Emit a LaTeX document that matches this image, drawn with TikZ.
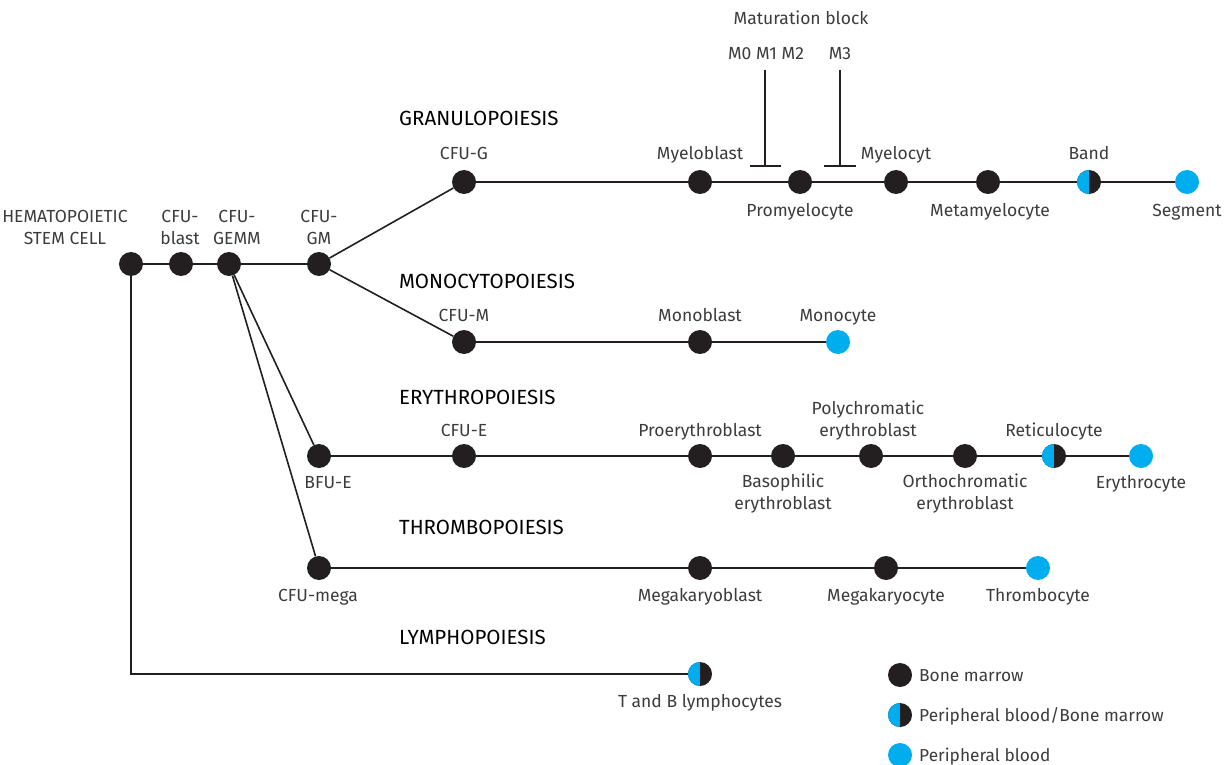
\documentclass[tikz,border=0pt]{standalone}
\usepackage{fontspec}
\setmainfont{Fira Sans}
\definecolor{dotblack}{HTML}{231F20}
\definecolor{dotblue}{HTML}{00AEEF}
\definecolor{lblgrey}{HTML}{3C3C3C}
\begin{document}
\begin{tikzpicture}[x=1pt,y=-1pt,
  dot/.style={circle,minimum size=24pt,inner sep=0pt},
  bm/.style={dot,fill=dotblack},
  pb/.style={dot,fill=dotblue},
  half/.style={dot,fill=dotblack,path picture={\fill[dotblue] (path picture bounding box.south west) rectangle (path picture bounding box.north);}},
  conn/.style={line width=1.6pt,draw=dotblack},
  blk/.style={line width=1.3pt,draw=dotblack},
  lbl/.style={text=lblgrey,font=\fontsize{17.5}{22}\selectfont,inner sep=0pt,anchor=base,align=center},
  ttl/.style={text=black,font=\fontsize{20.5}{22}\selectfont,inner sep=0pt,anchor=base west},
  leg/.style={text=lblgrey,font=\fontsize{17.3}{22}\selectfont,inner sep=0pt,anchor=base west}]
\useasboundingbox (0,0) rectangle (1229,765);
% stem row
\node[bm] (hsc) at (131,264) {};
\node[bm] (blast) at (181,264) {};
\node[bm] (gemm) at (229,264) {};
\node[bm] (gm) at (319,264) {};
% granulo
\node[bm] (cfug) at (464,182) {};
\node[bm] (myelob) at (700,182) {};
\node[bm] (promy) at (800,182) {};
\node[bm] (myeloc) at (896,182) {};
\node[bm] (meta) at (988,182) {};
\node[half] (band) at (1089,182) {};
\node[pb] (seg) at (1187,182) {};
% mono
\node[bm] (cfum) at (464,342) {};
\node[bm] (monob) at (700,342) {};
\node[pb] (monoc) at (838,342) {};
% ery
\node[bm] (bfue) at (319,456) {};
\node[bm] (cfue) at (464,456) {};
\node[bm] (proe) at (700,456) {};
\node[bm] (baso) at (783,456) {};
\node[bm] (poly) at (871,456) {};
\node[bm] (ortho) at (965,456) {};
\node[half] (retic) at (1054,456) {};
\node[pb] (eryc) at (1141,456) {};
% thrombo
\node[bm] (mega) at (319,568) {};
\node[bm] (megab) at (700,568) {};
\node[bm] (megac) at (886,568) {};
\node[pb] (throm) at (1038,568) {};
% lympho
\node[half] (lymph) at (700,674) {};
\coordinate (corner) at (131,674);
% connectors
\draw[conn] (hsc) -- (blast) -- (gemm) -- (gm);
\draw[conn] (gm) -- (cfug);
\draw[conn] (gm) -- (cfum);
\draw[conn] (gemm) -- (bfue);
\draw[conn] (gemm) -- (mega);
\draw[conn] (cfug) -- (myelob) -- (promy) -- (myeloc) -- (meta) -- (band) -- (seg);
\draw[conn] (cfum) -- (monob) -- (monoc);
\draw[conn] (bfue) -- (cfue) -- (proe) -- (baso) -- (poly) -- (ortho) -- (retic) -- (eryc);
\draw[conn] (mega) -- (megab) -- (megac) -- (throm);
\draw[conn] (hsc) -- (corner) -- (lymph);
% maturation block
\coordinate (b1t) at (765,70);
\coordinate (b1b) at (765,166);
\coordinate (b1l) at (750,166);
\coordinate (b1r) at (781,166);
\coordinate (b2t) at (840,70);
\coordinate (b2b) at (840,166);
\coordinate (b2l) at (824,166);
\coordinate (b2r) at (856,166);
\draw[blk] (b1t) -- (b1b) (b1l) -- (b1r);
\draw[blk] (b2t) -- (b2b) (b2l) -- (b2r);
\node[lbl] (matb) at (801,25) {Maturation block};
\node[lbl] (m012) at (766,60) {M0 M1 M2};
\node[lbl] (m3) at (840,60) {M3};
% labels (base anchor = baseline of last line)
\node[lbl] (lhsc) at (65,244) {HEMATOPOIETIC\\STEM CELL};
\node[lbl] (lblast) at (180,244) {CFU-\\blast};
\node[lbl] (lgemm) at (237,244) {CFU-\\GEMM};
\node[lbl] (lgm) at (319,244) {CFU-\\GM};
\node[lbl] (lcfug) at (464,160) {CFU-G};
\node[lbl] (lmyelob) at (700,160) {Myeloblast};
\node[lbl] (lpromy) at (800,216) {Promyelocyte};
\node[lbl] (lmyeloc) at (896,160) {Myelocyt};
\node[lbl] (lmeta) at (990,216) {Metamyelocyte};
\node[lbl] (lband) at (1089,160) {Band};
\node[lbl] (lseg) at (1187,216) {Segment};
\node[lbl] (lcfum) at (464,321) {CFU-M};
\node[lbl] (lmonob) at (700,321) {Monoblast};
\node[lbl] (lmonoc) at (838,321) {Monocyte};
\node[lbl] (lcfue) at (464,436) {CFU-E};
\node[lbl] (lproe) at (700,436) {Proerythroblast};
\node[lbl] (lpoly) at (868,436) {Polychromatic\\erythroblast};
\node[lbl] (lretic) at (1054,436) {Reticulocyte};
\node[lbl] (lbfue) at (328,488) {BFU-E};
\node[lbl] (lbaso) at (783,509) {Basophilic\\erythroblast};
\node[lbl] (lortho) at (965,509) {Orthochromatic\\erythroblast};
\node[lbl] (leryc) at (1141,488) {Erythrocyte};
\node[lbl] (lmega) at (318,601) {CFU-mega};
\node[lbl] (lmegab) at (700,601) {Megakaryoblast};
\node[lbl] (lmegac) at (886,601) {Megakaryocyte};
\node[lbl] (lthrom) at (1038,601) {Thrombocyte};
\node[lbl] (llymph) at (700,707) {T and B lymphocytes};
% titles
\node[ttl] (tgran) at (399,126) {GRANULOPOIESIS};
\node[ttl] (tmono) at (399,288) {MONOCYTOPOIESIS};
\node[ttl] (tery) at (399,404) {ERYTHROPOIESIS};
\node[ttl] (tthr) at (399,534) {THROMBOPOIESIS};
\node[ttl] (tlym) at (399,644) {LYMPHOPOIESIS};
% legend
\node[bm] (k1) at (900,675) {};
\node[half] (k2) at (900,715) {};
\node[pb] (k3) at (900,755) {};
\node[leg] (lk1) at (919,681) {Bone marrow};
\node[leg] (lk2) at (919,721) {Peripheral blood/Bone marrow};
\node[leg] (lk3) at (919,761) {Peripheral blood};
\end{tikzpicture}
\end{document}
